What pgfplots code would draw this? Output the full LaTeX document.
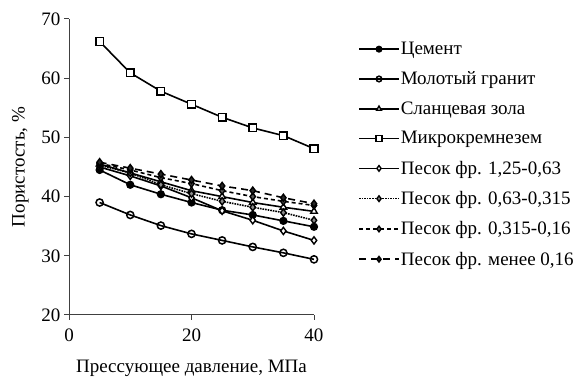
\documentclass[border=0pt]{standalone}
\usepackage{pgfplots}
\pgfplotsset{compat=1.18}
\usepackage{fontspec}
\setmainfont{Liberation Serif}
\begin{document}
\begin{tikzpicture}
\path[use as bounding box] (0,0) rectangle (577pt,382pt);
\begin{axis}[
  at={(69pt,67pt)}, anchor=south west,
  scale only axis, width=245pt, height=296pt,
  xmin=0, xmax=40, ymin=20, ymax=70,
  xtick={0,20,40}, ytick={20,30,40,50,60,70},
  axis x line=bottom, axis y line=left,
  axis line style={-, line width=1pt, black!75},
  tick style={black!75, line width=1pt},
  tick align=outside, major tick length=5pt,
  /pgf/number format/assume math mode=true,
  ticklabel style={font=\fontsize{19}{21}\selectfont},
  xticklabel style={yshift=-5pt},
  xlabel={Прессующее давление, МПа},
  ylabel={Пористость, \%},
  label style={font=\fontsize{19}{21}\selectfont},
  xlabel style={yshift=-12pt},
  ylabel style={yshift=6pt},
  legend style={draw=none, fill=none, at={(289pt,274pt)}, anchor=north west,
    font=\fontsize{19}{21}\selectfont, row sep=13.6pt, inner sep=0pt,
    nodes={inner sep=1pt}},
  legend cell align=left,
  legend image code/.code={\draw[#1,mark=none,line width=1.6pt] (-4pt,0pt) -- (36pt,0pt); \draw[#1,solid,mark size=2.8pt,line width=1.4pt] plot coordinates {(16pt,0pt)};},
  every axis plot/.append style={line width=1.6pt, black},
]
\addplot[mark=*, mark size=3.4pt, mark options={fill=black, solid, line width=1.4pt}] coordinates {
(5,44.5) (10,42.0) (15,40.4) (20,39.0) (25,37.7) (30,36.9) (35,35.9) (40,34.9)};
\addlegendentry{Цемент}
\addplot[mark=o, mark size=3.6pt, mark options={fill=white, solid, line width=1.5pt}] coordinates {
(5,39.0) (10,36.9) (15,35.1) (20,33.7) (25,32.6) (30,31.5) (35,30.5) (40,29.4)};
\addlegendentry{Молотый гранит}
\addplot[mark=triangle*, mark size=3.8pt, mark options={fill=white, solid, line width=1.4pt}] coordinates {
(5,45.5) (10,44.0) (15,42.5) (20,41.0) (25,40.0) (30,39.0) (35,38.2) (40,37.5)};
\addlegendentry{Сланцевая зола}
\addplot[mark=square*, mark size=3.8pt, mark options={fill=white, solid, line width=1.5pt}] coordinates {
(5,66.2) (10,60.9) (15,57.8) (20,55.6) (25,53.4) (30,51.6) (35,50.3) (40,48.1)};
\addlegendentry{Микрокремнезем}
\addplot[mark=diamond*, mark size=3.6pt, mark options={fill=white, solid, line width=1.4pt}] coordinates {
(5,45.0) (10,43.5) (15,41.8) (20,39.8) (25,37.6) (30,36.0) (35,34.2) (40,32.6)};
\addlegendentry{Песок фр. 1,25-0,63}
\addplot[densely dotted, mark=diamond*, mark size=3.6pt, mark options={fill=black!45, solid, line width=1.4pt}] coordinates {
(5,45.3) (10,44.0) (15,42.0) (20,40.5) (25,39.2) (30,38.2) (35,37.3) (40,36.0)};
\addlegendentry{Песок фр. 0,63-0,315}
\addplot[dash pattern=on 4pt off 3pt, mark=diamond*, mark size=3.6pt, mark options={fill=black!65, solid, line width=1.4pt}] coordinates {
(5,45.6) (10,44.5) (15,43.2) (20,42.2) (25,41.0) (30,40.0) (35,39.2) (40,38.5)};
\addlegendentry{Песок фр. 0,315-0,16}
\addplot[dash pattern=on 7pt off 5pt, mark=diamond*, mark size=3.6pt, mark options={fill=black!85, solid, line width=1.4pt}] coordinates {
(5,45.8) (10,44.8) (15,43.8) (20,42.8) (25,41.8) (30,41.0) (35,39.8) (40,38.8)};
\addlegendentry{Песок фр. менее 0,16}
\end{axis}
\end{tikzpicture}
\end{document}
